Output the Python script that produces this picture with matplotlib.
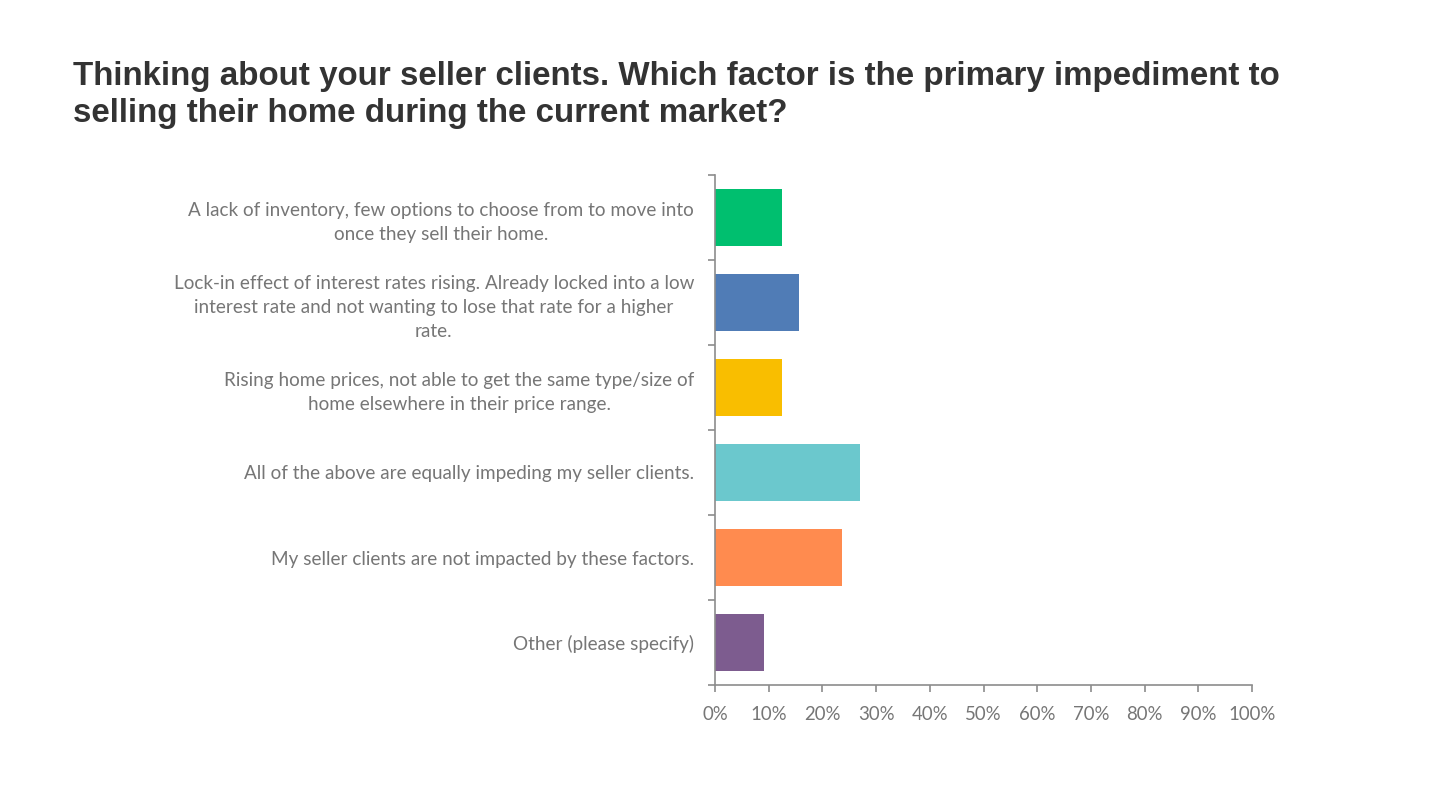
import matplotlib
matplotlib.use("Agg")
import matplotlib.pyplot as plt
from matplotlib.ticker import FuncFormatter

title = ("Thinking about your seller clients. Which factor is the primary impediment to\n"
         "selling their home during the current market?")
categories = [
    "A lack of inventory, few options to choose from to move into\nonce they sell their home.",
    "Lock-in effect of interest rates rising. Already locked into a low\ninterest rate and not wanting to lose that rate for a higher\nrate.",
    "Rising home prices, not able to get the same type/size of\nhome elsewhere in their price range.",
    "All of the above are equally impeding my seller clients.",
    "My seller clients are not impacted by these factors.",
    "Other (please specify)",
]
values = [12.4, 15.7, 12.4, 27.0, 23.6, 9.2]
colors = ["#00BF6F", "#507CB6", "#F9BE00", "#6BC8CD", "#FF8B4F", "#7D5C8F"]
xticks = list(range(0, 101, 10))

fig = plt.figure(figsize=(14.52, 8.02), dpi=100)
ax = fig.add_axes([715/1452, 1-685/802, (1252-715)/1452, (685-175)/802])

ypos = list(range(len(categories)))
ax.barh(ypos, values, height=0.66, color=colors)
ax.set_ylim(len(categories) - 0.5, -0.5)
ax.set_xlim(0, 100)

ax.set_yticks([y - 0.5 for y in ypos] + [len(categories) - 0.5])
ax.set_yticklabels([])
ax.set_yticks(ypos, minor=True)
ax.set_yticklabels(categories, minor=True, fontsize=13.6, color="#767676",
                   family="Lato", multialignment="center", linespacing=1.5)
ax.tick_params(axis="y", which="minor", length=0, pad=15)
ax.tick_params(axis="y", which="major", length=5, width=1.2, color="#8c8c8c")

ax.set_xticks(xticks)
ax.xaxis.set_major_formatter(FuncFormatter(lambda v, p: f"{int(v)}%"))
ax.tick_params(axis="x", length=5, width=1.2, color="#8c8c8c", labelsize=13.4,
               labelcolor="#767676", pad=10)
for lab in ax.get_xticklabels():
    lab.set_family("Lato")

for s in ["top", "right"]:
    ax.spines[s].set_visible(False)
for s in ["left", "bottom"]:
    ax.spines[s].set_color("#8c8c8c")
    ax.spines[s].set_linewidth(1.2)

fig.text(73/1452, 1-61/802, title, ha="left", va="top", fontsize=23.9,
         fontweight="bold", family="Liberation Sans", color="#333333",
         linespacing=1.25)

fig.savefig("out.png", dpi=100)
